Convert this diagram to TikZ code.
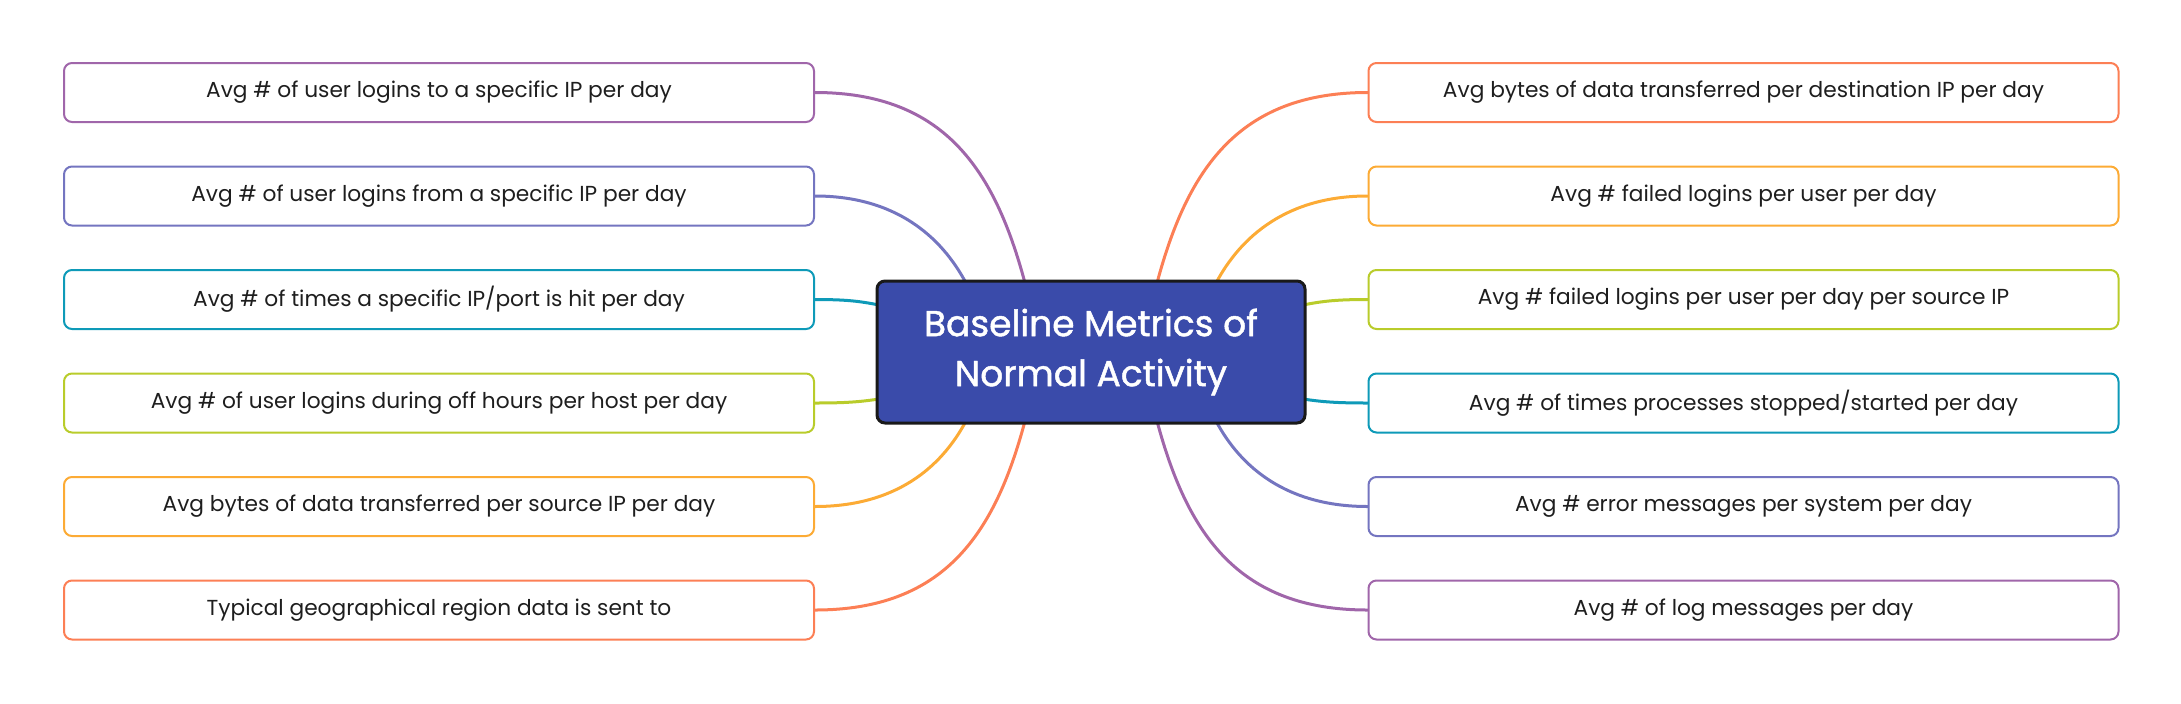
\documentclass[tikz,border=0pt]{standalone}
\usepackage{fontspec}
\setmainfont{Poppins}
\newfontfamily\titlefont[FakeBold=1.3]{Poppins}
\usetikzlibrary{calc}
\definecolor{cPur}{HTML}{A066AA}
\definecolor{cBlu}{HTML}{7475C0}
\definecolor{cTea}{HTML}{0E9AB8}
\definecolor{cGrn}{HTML}{B9CC2B}
\definecolor{cOra}{HTML}{FCAB35}
\definecolor{cRed}{HTML}{FC7F55}
\definecolor{cCen}{HTML}{3A4BAA}
\definecolor{cTxt}{HTML}{1E1E1E}
\tikzset{
  leaf/.style={draw=#1, line width=1pt, rounded corners=4pt, fill=white,
    minimum width=375pt, minimum height=29.5pt, inner sep=0pt,
    font=\fontsize{10.85}{13}\selectfont, text=cTxt},
  link/.style={draw=#1, line width=1.5pt, line cap=round},
  root/.style={draw=black!90, line width=1.5pt, rounded corners=4pt, fill=cCen,
    minimum width=214pt, minimum height=71pt, inner sep=0pt, align=center,
    font=\titlefont\fontsize{18}{25}\selectfont, text=white}
}
\begin{document}
\begin{tikzpicture}[x=0.5pt,y=-0.5pt]
\useasboundingbox (0,0) rectangle (2181,703);
% leaves left
\node[leaf=cPur] (L1) at (439,92.5) {Avg \# of user logins to a specific IP per day};
\node[leaf=cBlu] (L2) at (439,196) {Avg \# of user logins from a specific IP per day};
\node[leaf=cTea] (L3) at (439,299.5) {Avg \# of times a specific IP/port is hit per day};
\node[leaf=cGrn] (L4) at (439,403) {Avg \# of user logins during off hours per host per day};
\node[leaf=cOra] (L5) at (439,506.5) {Avg bytes of data transferred per source IP per day};
\node[leaf=cRed] (L6) at (439,610) {Typical geographical region data is sent to};
% leaves right
\node[leaf=cRed] (R1) at (1743.5,92.5) {Avg bytes of data transferred per destination IP per day};
\node[leaf=cOra] (R2) at (1743.5,196) {Avg \# failed logins per user per day};
\node[leaf=cGrn] (R3) at (1743.5,299.5) {Avg \# failed logins per user per day per source IP};
\node[leaf=cTea] (R4) at (1743.5,403) {Avg \# of times processes stopped/started per day};
\node[leaf=cBlu] (R5) at (1743.5,506.5) {Avg \# error messages per system per day};
\node[leaf=cPur] (R6) at (1743.5,610) {Avg \# of log messages per day};
% start points on the root
\coordinate (sL1) at (1025,283);
\coordinate (sL2) at (966,283);
\coordinate (sL3) at (879,305);
\coordinate (sL4) at (879,399);
\coordinate (sL5) at (966,421);
\coordinate (sL6) at (1025,421);
\coordinate (sR1) at (1157,283);
\coordinate (sR2) at (1216,283);
\coordinate (sR3) at (1303,305);
\coordinate (sR4) at (1303,399);
\coordinate (sR5) at (1216,421);
\coordinate (sR6) at (1157,421);
% connectors
\draw[link=cPur] (sL1) .. controls ($(sL1)+(-30,-112)$) and ($(L1.east)+(130,0)$) .. (L1.east);
\draw[link=cBlu] (sL2) .. controls ($(sL2)+(-25,-47)$) and ($(L2.east)+(80,0)$) .. (L2.east);
\draw[link=cTea] (sL3) .. controls ($(sL3)+(-20,-4)$) and ($(L3.east)+(30,0)$) .. (L3.east);
\draw[link=cGrn] (sL4) .. controls ($(sL4)+(-20,3)$) and ($(L4.east)+(30,0)$) .. (L4.east);
\draw[link=cOra] (sL5) .. controls ($(sL5)+(-25,47)$) and ($(L5.east)+(80,0)$) .. (L5.east);
\draw[link=cRed] (sL6) .. controls ($(sL6)+(-30,112)$) and ($(L6.east)+(130,0)$) .. (L6.east);
\draw[link=cRed] (sR1) .. controls ($(sR1)+(30,-112)$) and ($(R1.west)+(-130,0)$) .. (R1.west);
\draw[link=cOra] (sR2) .. controls ($(sR2)+(25,-47)$) and ($(R2.west)+(-80,0)$) .. (R2.west);
\draw[link=cGrn] (sR3) .. controls ($(sR3)+(20,-4)$) and ($(R3.west)+(-30,0)$) .. (R3.west);
\draw[link=cTea] (sR4) .. controls ($(sR4)+(20,3)$) and ($(R4.west)+(-30,0)$) .. (R4.west);
\draw[link=cBlu] (sR5) .. controls ($(sR5)+(25,47)$) and ($(R5.west)+(-80,0)$) .. (R5.west);
\draw[link=cPur] (sR6) .. controls ($(sR6)+(30,112)$) and ($(R6.west)+(-130,0)$) .. (R6.west);
% root
\node[root] (C) at (1091,352) {Baseline Metrics of\\Normal Activity};
\end{tikzpicture}
\end{document}
